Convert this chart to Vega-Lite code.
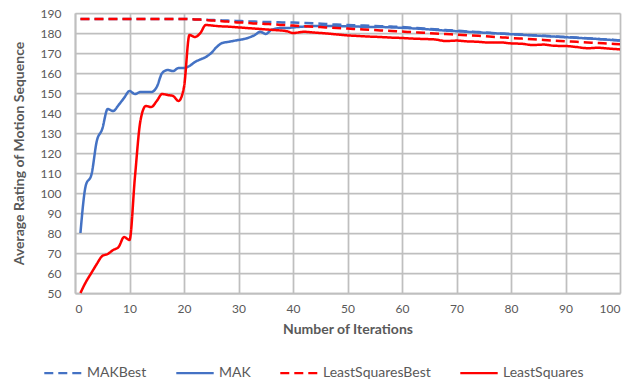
{
  "$schema": "https://vega.github.io/schema/vega-lite/v6.json",
  "autosize": {"type": "none"},
  "width": 545,
  "height": 280,
  "padding": {"left": 75, "top": 13, "right": 24, "bottom": 93},
  "background": "white",
  "data": {
    "values": [
      {"i": 1, "MAKBest": 187, "MAK": 80, "LeastSquaresBest": 187, "LeastSquares": 50},
      {"i": 2, "MAKBest": 187, "MAK": 104, "LeastSquaresBest": 187, "LeastSquares": 55.5},
      {"i": 3, "MAKBest": 187, "MAK": 109, "LeastSquaresBest": 187, "LeastSquares": 60},
      {"i": 4, "MAKBest": 187, "MAK": 126, "LeastSquaresBest": 187, "LeastSquares": 64.5},
      {"i": 5, "MAKBest": 187, "MAK": 132, "LeastSquaresBest": 187, "LeastSquares": 68.5},
      {"i": 6, "MAKBest": 187, "MAK": 142, "LeastSquaresBest": 187, "LeastSquares": 69.5},
      {"i": 7, "MAKBest": 187, "MAK": 141, "LeastSquaresBest": 187, "LeastSquares": 71.5},
      {"i": 8, "MAKBest": 187, "MAK": 144, "LeastSquaresBest": 187, "LeastSquares": 73},
      {"i": 9, "MAKBest": 187, "MAK": 147.5, "LeastSquaresBest": 187, "LeastSquares": 78},
      {"i": 10, "MAKBest": 187, "MAK": 151, "LeastSquaresBest": 187, "LeastSquares": 76.5},
      {"i": 11, "MAKBest": 187, "MAK": 149.5, "LeastSquaresBest": 187, "LeastSquares": 108},
      {"i": 12, "MAKBest": 187, "MAK": 150.5, "LeastSquaresBest": 187, "LeastSquares": 136},
      {"i": 13, "MAKBest": 187, "MAK": 150.5, "LeastSquaresBest": 187, "LeastSquares": 143.5},
      {"i": 14, "MAKBest": 187, "MAK": 150.5, "LeastSquaresBest": 187, "LeastSquares": 143},
      {"i": 15, "MAKBest": 187, "MAK": 153, "LeastSquaresBest": 187, "LeastSquares": 146},
      {"i": 16, "MAKBest": 187, "MAK": 160, "LeastSquaresBest": 187, "LeastSquares": 149.5},
      {"i": 17, "MAKBest": 187, "MAK": 161.5, "LeastSquaresBest": 187, "LeastSquares": 149},
      {"i": 18, "MAKBest": 187, "MAK": 161, "LeastSquaresBest": 187, "LeastSquares": 148.5},
      {"i": 19, "MAKBest": 187, "MAK": 162.5, "LeastSquaresBest": 187, "LeastSquares": 146},
      {"i": 20, "MAKBest": 187, "MAK": 162.5, "LeastSquaresBest": 187, "LeastSquares": 153},
      {"i": 21, "MAKBest": 186.9, "MAK": 163.5, "LeastSquaresBest": 186.9, "LeastSquares": 179},
      {"i": 22, "MAKBest": 186.8, "MAK": 165.5, "LeastSquaresBest": 186.8, "LeastSquares": 178},
      {"i": 23, "MAKBest": 186.7, "MAK": 166.8, "LeastSquaresBest": 186.7, "LeastSquares": 180},
      {"i": 24, "MAKBest": 186.6, "MAK": 168, "LeastSquaresBest": 186.5, "LeastSquares": 184},
      {"i": 25, "MAKBest": 186.5, "MAK": 170, "LeastSquaresBest": 186.3, "LeastSquares": 183.8},
      {"i": 26, "MAKBest": 186.4, "MAK": 173, "LeastSquaresBest": 186.1, "LeastSquares": 183.5},
      {"i": 27, "MAKBest": 186.3, "MAK": 175, "LeastSquaresBest": 185.9, "LeastSquares": 183.3},
      {"i": 28, "MAKBest": 186.2, "MAK": 175.5, "LeastSquaresBest": 185.7, "LeastSquares": 183.2},
      {"i": 29, "MAKBest": 186.1, "MAK": 176, "LeastSquaresBest": 185.5, "LeastSquares": 183},
      {"i": 30, "MAKBest": 186, "MAK": 176.5, "LeastSquaresBest": 185.3, "LeastSquares": 182.8},
      {"i": 31, "MAKBest": 185.9, "MAK": 177, "LeastSquaresBest": 185.2, "LeastSquares": 182.6},
      {"i": 32, "MAKBest": 185.8, "MAK": 177.8, "LeastSquaresBest": 185, "LeastSquares": 182.4},
      {"i": 33, "MAKBest": 185.7, "MAK": 179, "LeastSquaresBest": 184.8, "LeastSquares": 182.2},
      {"i": 34, "MAKBest": 185.6, "MAK": 180.6, "LeastSquaresBest": 184.7, "LeastSquares": 182},
      {"i": 35, "MAKBest": 185.5, "MAK": 179.5, "LeastSquaresBest": 184.5, "LeastSquares": 181.8},
      {"i": 36, "MAKBest": 185.5, "MAK": 181.5, "LeastSquaresBest": 184.4, "LeastSquares": 181.6},
      {"i": 37, "MAKBest": 185.4, "MAK": 182.3, "LeastSquaresBest": 184.2, "LeastSquares": 181.4},
      {"i": 38, "MAKBest": 185.3, "MAK": 182.5, "LeastSquaresBest": 184, "LeastSquares": 181.2},
      {"i": 39, "MAKBest": 185.3, "MAK": 182.5, "LeastSquaresBest": 183.9, "LeastSquares": 180.8},
      {"i": 40, "MAKBest": 185.2, "MAK": 182.8, "LeastSquaresBest": 183.7, "LeastSquares": 180},
      {"i": 42, "MAKBest": 185, "MAK": 183.2, "LeastSquaresBest": 183.4, "LeastSquares": 180.6},
      {"i": 44, "MAKBest": 184.8, "MAK": 183.5, "LeastSquaresBest": 183.1, "LeastSquares": 180.2},
      {"i": 46, "MAKBest": 184.5, "MAK": 183.5, "LeastSquaresBest": 182.8, "LeastSquares": 179.8},
      {"i": 48, "MAKBest": 184.2, "MAK": 183.5, "LeastSquaresBest": 182.5, "LeastSquares": 179.3},
      {"i": 50, "MAKBest": 184, "MAK": 183.3, "LeastSquaresBest": 182.2, "LeastSquares": 178.8},
      {"i": 52, "MAKBest": 183.8, "MAK": 183.2, "LeastSquaresBest": 181.9, "LeastSquares": 178.5},
      {"i": 54, "MAKBest": 183.6, "MAK": 183, "LeastSquaresBest": 181.6, "LeastSquares": 178.2},
      {"i": 56, "MAKBest": 183.4, "MAK": 183, "LeastSquaresBest": 181.3, "LeastSquares": 178},
      {"i": 58, "MAKBest": 183.2, "MAK": 182.8, "LeastSquaresBest": 181, "LeastSquares": 177.7},
      {"i": 60, "MAKBest": 183, "MAK": 182.6, "LeastSquaresBest": 180.7, "LeastSquares": 177.5},
      {"i": 62, "MAKBest": 182.6, "MAK": 182.3, "LeastSquaresBest": 180.4, "LeastSquares": 177.2},
      {"i": 64, "MAKBest": 182.2, "MAK": 182, "LeastSquaresBest": 180.1, "LeastSquares": 177},
      {"i": 66, "MAKBest": 181.9, "MAK": 181.6, "LeastSquaresBest": 179.8, "LeastSquares": 176.8},
      {"i": 68, "MAKBest": 181.5, "MAK": 181.2, "LeastSquaresBest": 179.5, "LeastSquares": 176},
      {"i": 70, "MAKBest": 181.2, "MAK": 180.9, "LeastSquaresBest": 179.2, "LeastSquares": 176.2},
      {"i": 72, "MAKBest": 180.8, "MAK": 180.6, "LeastSquaresBest": 178.9, "LeastSquares": 175.8},
      {"i": 74, "MAKBest": 180.5, "MAK": 180.3, "LeastSquaresBest": 178.6, "LeastSquares": 175.6},
      {"i": 76, "MAKBest": 180.1, "MAK": 180, "LeastSquaresBest": 178.2, "LeastSquares": 175.2},
      {"i": 78, "MAKBest": 179.8, "MAK": 179.7, "LeastSquaresBest": 177.9, "LeastSquares": 175.3},
      {"i": 80, "MAKBest": 179.5, "MAK": 179.4, "LeastSquaresBest": 177.5, "LeastSquares": 174.8},
      {"i": 82, "MAKBest": 179.2, "MAK": 179.1, "LeastSquaresBest": 177.2, "LeastSquares": 174.6},
      {"i": 84, "MAKBest": 178.9, "MAK": 178.8, "LeastSquaresBest": 176.9, "LeastSquares": 174},
      {"i": 86, "MAKBest": 178.6, "MAK": 178.5, "LeastSquaresBest": 176.5, "LeastSquares": 174.2},
      {"i": 88, "MAKBest": 178.3, "MAK": 178.2, "LeastSquaresBest": 176.2, "LeastSquares": 173.6},
      {"i": 90, "MAKBest": 178, "MAK": 177.9, "LeastSquaresBest": 175.9, "LeastSquares": 173.5},
      {"i": 92, "MAKBest": 177.7, "MAK": 177.6, "LeastSquaresBest": 175.6, "LeastSquares": 173},
      {"i": 94, "MAKBest": 177.4, "MAK": 177.3, "LeastSquaresBest": 175.3, "LeastSquares": 172.4},
      {"i": 96, "MAKBest": 177, "MAK": 177, "LeastSquaresBest": 175, "LeastSquares": 172.6},
      {"i": 98, "MAKBest": 176.7, "MAK": 176.6, "LeastSquaresBest": 174.7, "LeastSquares": 172.2},
      {"i": 100, "MAKBest": 176.3, "MAK": 176.2, "LeastSquaresBest": 174.4, "LeastSquares": 171.8}
    ]
  },
  "transform": [
    {"fold": ["MAKBest", "MAK", "LeastSquaresBest", "LeastSquares"], "as": ["series", "value"]}
  ],
  "mark": {"type": "line", "strokeWidth": 2.5, "interpolate": "monotone"},
  "encoding": {
    "x": {
      "field": "i", "type": "quantitative",
      "scale": {"domain": [0, 100], "nice": false},
      "axis": {"values": [0,10,20,30,40,50,60,70,80,90,100], "title": "Number of Iterations", "labelPadding": 10, "titlePadding": 8}
    },
    "y": {
      "field": "value", "type": "quantitative",
      "scale": {"domain": [50, 190], "nice": false, "zero": false},
      "axis": {"values": [50,60,70,80,90,100,110,120,130,140,150,160,170,180,190], "title": "Average Rating of Motion Sequence", "labelPadding": 14, "titlePadding": 14}
    },
    "color": {
      "field": "series", "type": "nominal",
      "scale": {"domain": ["MAKBest", "MAK", "LeastSquaresBest", "LeastSquares"], "range": ["#4472C4", "#4472C4", "#FF0000", "#FF0000"]},
      "legend": {"title": null}
    },
    "strokeDash": {
      "field": "series", "type": "nominal",
      "scale": {"domain": ["MAKBest", "MAK", "LeastSquaresBest", "LeastSquares"], "range": [[9, 5], [1, 0], [9, 5], [1, 0]]},
      "legend": {"title": null}
    }
  },
  "config": {
    "font": "Lato",
    "view": {"stroke": null},
    "axis": {
      "grid": true,
      "gridColor": "#BFBFBF",
      "gridWidth": 1.75,
      "domainColor": "#BFBFBF",
      "domainWidth": 1.75,
      "ticks": false,
      "labelFont": "Lato",
      "labelFontSize": 12,
      "labelColor": "#595959",
      "titleFont": "Lato",
      "titleFontSize": 14,
      "titleFontWeight": "bold",
      "titleColor": "#595959"
    },
    "legend": {
      "orient": "none",
      "legendX": -32,
      "legendY": 340,
      "direction": "horizontal",
      "symbolType": "stroke",
      "symbolSize": 1400,
      "symbolStrokeWidth": 2.25,
      "labelFont": "Lato",
      "labelFontSize": 14,
      "labelColor": "#595959",
      "columnPadding": 24,
      "labelOffset": 4
    }
  }
}
